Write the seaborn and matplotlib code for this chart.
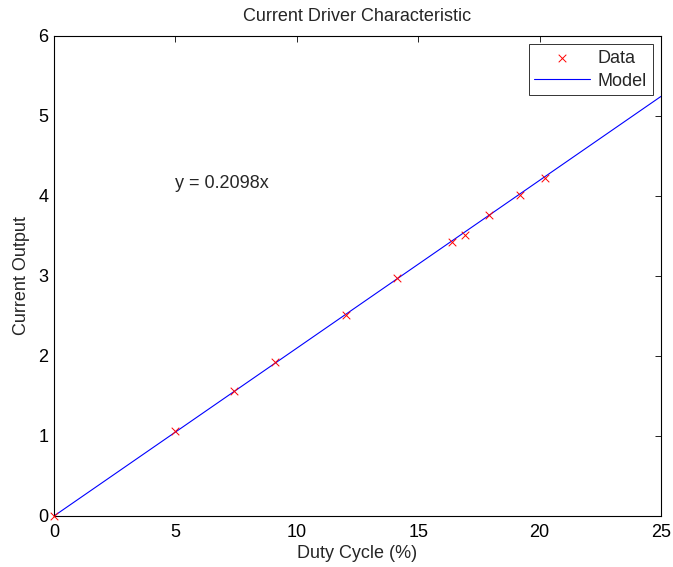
import numpy as np
import pandas as pd
import matplotlib
matplotlib.use("Agg")
import matplotlib.pyplot as plt
import seaborn as sns

duty = [0.0, 5.0, 7.42, 9.1, 12.03, 14.11, 16.41, 16.93, 17.93, 19.19, 20.22]
current = [0.0, 1.065, 1.56, 1.925, 2.51, 2.97, 3.42, 3.51, 3.765, 4.015, 4.225]
slope = 0.2098
model_x = [0.0, 25.0]
model_y = [slope * v for v in model_x]

sns.set_style("white")
plt.rcParams['font.family'] = ['Liberation Sans', 'DejaVu Sans']
plt.rcParams['xtick.direction'] = 'in'
plt.rcParams['ytick.direction'] = 'in'

FS = 13
fig = plt.figure(figsize=(6.73, 5.67), dpi=100)
ax = fig.add_axes([54/673, 51/567, 607/673, 480/567])

df = pd.DataFrame({"duty": duty, "current": current})
dm = pd.DataFrame({"x": model_x, "y": model_y})

sns.lineplot(data=dm, x="x", y="y", ax=ax, color="blue", linewidth=0.8, label="Model", zorder=2)
sns.scatterplot(data=df, x="duty", y="current", ax=ax, marker="x", color="red", s=30,
                linewidth=0.7, label="Data", zorder=3, clip_on=False)

ax.set_xlim(0, 25)
ax.set_ylim(0, 6)
ax.set_xticks([0, 5, 10, 15, 20, 25])
ax.set_yticks([0, 1, 2, 3, 4, 5, 6])
ax.tick_params(axis='both', labelsize=FS, length=4, width=0.6, top=True, right=True, colors='black')
ax.tick_params(axis='x', pad=6)
ax.tick_params(axis='y', pad=4)
for s in ax.spines.values():
    s.set_color('black')
    s.set_linewidth(0.8)

ax.set_title("Current Driver Characteristic", fontsize=FS, pad=11)
ax.set_xlabel("Duty Cycle (%)", fontsize=FS, labelpad=3)
ax.set_ylabel("Current Output", fontsize=FS, labelpad=6)
ax.text(5.0, 4.15, "y = 0.2098x", fontsize=FS, ha="left", va="center")

handles, labels = ax.get_legend_handles_labels()
order = [labels.index("Data"), labels.index("Model")]
leg = ax.legend([handles[i] for i in order], [labels[i] for i in order], loc="upper right",
                fontsize=FS, frameon=True, fancybox=False, edgecolor="black",
                borderaxespad=0.45, handlelength=3.1, borderpad=0.33, labelspacing=0.3,
                handletextpad=0.4)
leg.get_frame().set_linewidth(0.7)

fig.savefig("out.png", dpi=100)
